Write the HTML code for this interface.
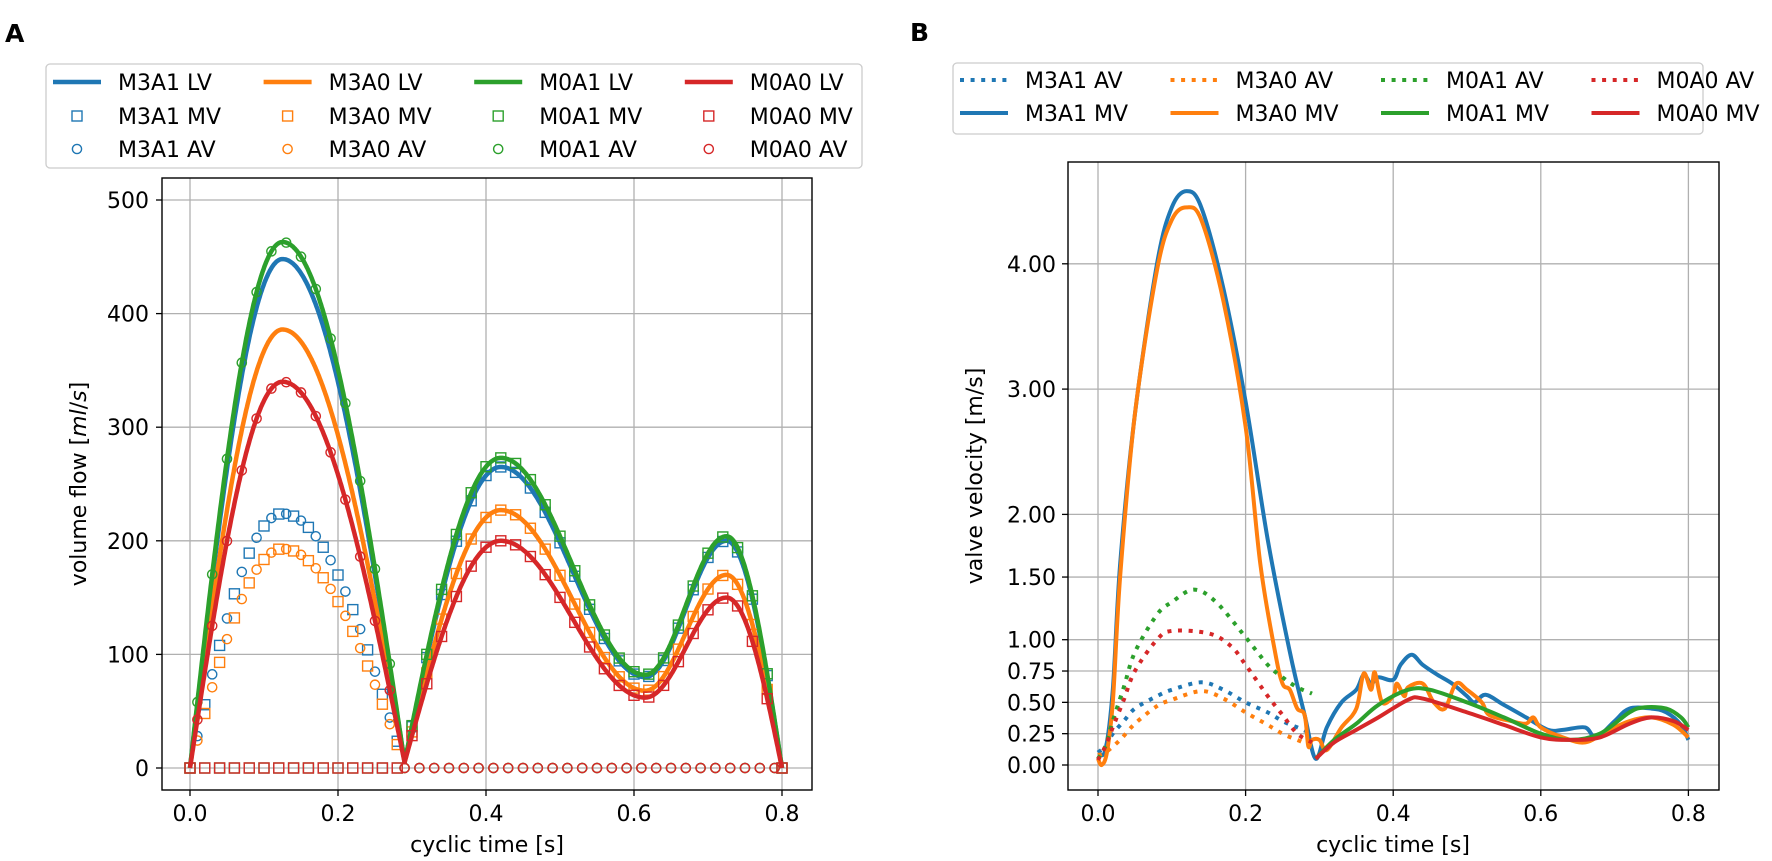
<!DOCTYPE html>
<html><head><meta charset="utf-8">
<style>
html,body{margin:0;padding:0;background:#fff;}
svg{display:block;font-family:"DejaVu Sans","Liberation Sans",sans-serif;}
</style></head>
<body>
<svg id="s" width="1772" height="861" viewBox="0 0 1772 861" xmlns="http://www.w3.org/2000/svg">
<rect width="1772" height="861" fill="#fff"/>
<text x="5" y="42" font-size="25" font-weight="bold">A</text>
<text x="910" y="41" font-size="25" font-weight="bold">B</text>
<g id="gridA" stroke="#b0b0b0" stroke-width="1.3"></g>
<g id="gridB" stroke="#b0b0b0" stroke-width="1.3"></g>
<g id="dataA"></g>
<g id="dataB"></g>
<rect x="162" y="178" width="650" height="612" fill="none" stroke="#000" stroke-width="1.4"/>
<rect x="1068" y="162" width="651" height="628" fill="none" stroke="#000" stroke-width="1.4"/>
<g id="ticks" stroke="#000" stroke-width="1.3"></g>
<g id="labels" font-size="22" fill="#000"></g>
<text x="487" y="852" font-size="22" text-anchor="middle">cyclic time [s]</text>
<text x="1393" y="852" font-size="22" text-anchor="middle">cyclic time [s]</text>
<text transform="translate(86,484) rotate(-90)" font-size="22" text-anchor="middle">volume flow [<tspan font-style="italic">ml</tspan>/<tspan font-style="italic">s</tspan>]</text>
<text transform="translate(982,476) rotate(-90)" font-size="22" text-anchor="middle">valve velocity [m/s]</text>
<rect x="46" y="64" width="816" height="104" rx="4" fill="#fff" stroke="#cccccc" stroke-width="1.3"/>
<rect x="953" y="63" width="750" height="71" rx="4" fill="#fff" stroke="#cccccc" stroke-width="1.3"/>
<g id="legA" font-size="22"></g>
<g id="legB" font-size="22"></g>
</svg>
<script>
var NS="http://www.w3.org/2000/svg";
function el(p,n,a,txt){var e=document.createElementNS(NS,n);for(var k in a)e.setAttribute(k,a[k]);if(txt!==undefined)e.textContent=txt;document.getElementById(p).appendChild(e);return e;}
var C={b:"#1f77b4",o:"#ff7f0e",g:"#2ca02c",r:"#d62728"};
function XA(t){return 190+740*t;} function YA(v){return 768-1.136*v;}
function XB(t){return 1098+738*t;} function YB(v){return 765-125.3*v;}
[0,0.2,0.4,0.6,0.8].forEach(function(t){
 el("gridA","line",{x1:XA(t),x2:XA(t),y1:178,y2:790});
 el("ticks","line",{x1:XA(t),x2:XA(t),y1:790,y2:796});
 el("labels","text",{x:XA(t),y:821,"text-anchor":"middle"},t.toFixed(1));
 el("gridB","line",{x1:XB(t),x2:XB(t),y1:162,y2:790});
 el("ticks","line",{x1:XB(t),x2:XB(t),y1:790,y2:796});
 el("labels","text",{x:XB(t),y:821,"text-anchor":"middle"},t.toFixed(1));
});
[0,100,200,300,400,500].forEach(function(v){
 el("gridA","line",{x1:162,x2:812,y1:YA(v),y2:YA(v)});
 el("ticks","line",{x1:156,x2:162,y1:YA(v),y2:YA(v)});
 el("labels","text",{x:149,y:YA(v)+8,"text-anchor":"end"},String(v));
});
[0,0.25,0.5,0.75,1,1.5,2,3,4].forEach(function(v){
 el("gridB","line",{x1:1068,x2:1719,y1:YB(v),y2:YB(v)});
 el("ticks","line",{x1:1062,x2:1068,y1:YB(v),y2:YB(v)});
 el("labels","text",{x:1056,y:YB(v)+8,"text-anchor":"end"},v.toFixed(2));
});
function lv(t,P1,P2,D,P3){
 var h=Math.PI/2,u;
 if(t<=0.125){u=t/0.125;return P1*Math.sin(h*u);}
 if(t<=0.29){u=(t-0.125)/0.165;return 5+(P1-5)*Math.cos(h*u);}
 if(t<=0.42){u=(t-0.29)/0.13;return 5+(P2-5)*Math.sin(h*u);}
 if(t<=0.615){u=(t-0.42)/0.195;return D+(P2-D)*(1+Math.cos(Math.PI*u))/2;}
 if(t<=0.725){u=(t-0.615)/0.11;return D+(P3-D)*(1-Math.cos(Math.PI*u))/2;}
 u=(t-0.725)/0.075;return P3*Math.cos(h*u);
}
var models=[["b",448,265,80,200,true],["o",386,227,68,170,true],["g",463,273,82,204,false],["r",340,200,62,150,false]];
models.forEach(function(m){
 var c=C[m[0]],f=function(t){return lv(t,m[1],m[2],m[3],m[4]);};
 var d="";for(var i=0;i<=800;i++){var t=i/1000;d+=(i?"L":"M")+XA(t).toFixed(1)+","+YA(f(t)).toFixed(1);}
 el("dataA","path",{d:d,fill:"none",stroke:c,"stroke-width":4.5,"stroke-linejoin":"round"});
 for(var k=0;k<=40;k++){var t=k*0.02,v;
  if(t<=0.285)v=m[5]?0.5*f(t):0;else v=f(t);
  el("dataA","rect",{x:XA(t)-5,y:YA(v)-5,width:10,height:10,fill:"none",stroke:c,"stroke-width":1.4});}
 for(var k=0;k<40;k++){var t=0.01+k*0.02,v;
  if(t<=0.285)v=m[5]?0.5*f(t):f(t);else v=0;
  el("dataA","circle",{cx:XA(t),cy:YA(v),r:4.6,fill:"none",stroke:c,"stroke-width":1.4});}
});
function cr(pts,X,Y){
 var P=pts.map(function(p){return [X(p[0]),Y(p[1])];});
 var d="M"+P[0][0].toFixed(1)+","+P[0][1].toFixed(1);
 for(var i=0;i<P.length-1;i++){
  var p0=P[i?i-1:0],p1=P[i],p2=P[i+1],p3=P[i+2<P.length?i+2:i+1];
  var c1=[p1[0]+(p2[0]-p0[0])/6,p1[1]+(p2[1]-p0[1])/6],c2=[p2[0]-(p3[0]-p1[0])/6,p2[1]-(p3[1]-p1[1])/6];
  d+="C"+c1[0].toFixed(1)+","+c1[1].toFixed(1)+" "+c2[0].toFixed(1)+","+c2[1].toFixed(1)+" "+p2[0].toFixed(1)+","+p2[1].toFixed(1);
 }
 return d;
}
var AV={
 b:[[0,0.1],[0.01,0.15],[0.02,0.25],[0.035,0.35],[0.05,0.45],[0.08,0.55],[0.1,0.6],[0.14,0.66],[0.17,0.6],[0.2,0.5],[0.23,0.42],[0.25,0.35],[0.27,0.3],[0.29,0.25]],
 o:[[0,0.08],[0.01,0.1],[0.03,0.2],[0.05,0.33],[0.08,0.47],[0.1,0.52],[0.14,0.59],[0.17,0.53],[0.2,0.42],[0.23,0.32],[0.25,0.25],[0.27,0.2],[0.29,0.15]],
 g:[[0,0.05],[0.01,0.15],[0.02,0.35],[0.035,0.62],[0.05,0.9],[0.08,1.2],[0.1,1.3],[0.13,1.4],[0.16,1.3],[0.2,1.02],[0.23,0.8],[0.25,0.7],[0.27,0.62],[0.29,0.57]],
 r:[[0,0.04],[0.01,0.15],[0.02,0.3],[0.035,0.52],[0.05,0.75],[0.08,1.0],[0.1,1.07],[0.15,1.05],[0.18,0.95],[0.2,0.8],[0.23,0.55],[0.25,0.4],[0.27,0.25],[0.29,0.18]]
};
var MV={
 b:[[0,0.1],[0.01,0.12],[0.02,0.6],[0.03,1.6],[0.05,2.8],[0.08,4.0],[0.1,4.45],[0.12,4.58],[0.14,4.45],[0.17,3.8],[0.2,2.9],[0.23,1.8],[0.26,0.9],[0.28,0.4],[0.295,0.05],[0.31,0.3],[0.33,0.5],[0.35,0.6],[0.36,0.72],[0.37,0.65],[0.38,0.7],[0.4,0.68],[0.41,0.8],[0.425,0.88],[0.44,0.8],[0.46,0.72],[0.48,0.65],[0.5,0.55],[0.51,0.5],[0.525,0.56],[0.55,0.48],[0.58,0.38],[0.61,0.28],[0.63,0.28],[0.66,0.3],[0.675,0.22],[0.7,0.35],[0.72,0.45],[0.75,0.45],[0.77,0.42],[0.79,0.32],[0.8,0.2]],
 o:[[0,0.05],[0.005,0.0],[0.012,0.1],[0.02,0.5],[0.03,1.5],[0.05,2.8],[0.08,3.95],[0.1,4.35],[0.12,4.45],[0.14,4.35],[0.17,3.7],[0.2,2.7],[0.22,1.6],[0.24,0.9],[0.25,0.65],[0.26,0.6],[0.27,0.45],[0.28,0.4],[0.285,0.15],[0.29,0.2],[0.3,0.2],[0.31,0.12],[0.33,0.3],[0.35,0.45],[0.36,0.73],[0.37,0.6],[0.375,0.74],[0.385,0.5],[0.4,0.55],[0.405,0.65],[0.415,0.55],[0.42,0.62],[0.44,0.65],[0.455,0.5],[0.47,0.45],[0.485,0.65],[0.5,0.6],[0.52,0.5],[0.53,0.4],[0.56,0.35],[0.58,0.33],[0.59,0.38],[0.6,0.3],[0.63,0.22],[0.66,0.18],[0.69,0.27],[0.72,0.35],[0.75,0.38],[0.78,0.32],[0.8,0.22]],
 g:[[0.295,0.05],[0.32,0.2],[0.35,0.33],[0.38,0.48],[0.42,0.6],[0.45,0.6],[0.5,0.5],[0.55,0.38],[0.6,0.25],[0.64,0.2],[0.68,0.25],[0.72,0.42],[0.74,0.46],[0.77,0.45],[0.79,0.38],[0.8,0.3]],
 r:[[0.295,0.05],[0.32,0.18],[0.35,0.28],[0.38,0.38],[0.42,0.52],[0.44,0.53],[0.5,0.42],[0.55,0.32],[0.6,0.22],[0.64,0.2],[0.68,0.22],[0.72,0.33],[0.75,0.38],[0.78,0.35],[0.8,0.28]]
};
["b","o","g","r"].forEach(function(k){
 el("dataB","path",{d:cr(AV[k],XB,YB),fill:"none",stroke:C[k],"stroke-width":4,"stroke-dasharray":"4 6.6"});
 el("dataB","path",{d:cr(MV[k],XB,YB),fill:"none",stroke:C[k],"stroke-width":4,"stroke-linejoin":"round"});
});
var names=[["M3A1","b"],["M3A0","o"],["M0A1","g"],["M0A0","r"]];
names.forEach(function(n,i){
 var x0=53+210.6*i,c=C[n[1]];
 el("legA","line",{x1:x0,x2:x0+48,y1:82,y2:82,stroke:c,"stroke-width":4.5});
 el("legA","rect",{x:x0+19,y:111,width:10,height:10,fill:"none",stroke:c,"stroke-width":1.4});
 el("legA","circle",{cx:x0+24,cy:149,r:4.6,fill:"none",stroke:c,"stroke-width":1.4});
 el("legA","text",{x:x0+65,y:90},n[0]+" LV");
 el("legA","text",{x:x0+65,y:124},n[0]+" MV");
 el("legA","text",{x:x0+65,y:157},n[0]+" AV");
 var xb=960+210.5*i;
 el("legB","line",{x1:xb,x2:xb+48,y1:80,y2:80,stroke:c,"stroke-width":4,"stroke-dasharray":"4 6.6"});
 el("legB","line",{x1:xb,x2:xb+48,y1:113,y2:113,stroke:c,"stroke-width":4});
 el("legB","text",{x:xb+65,y:88},n[0]+" AV");
 el("legB","text",{x:xb+65,y:121},n[0]+" MV");
});
</script>
</body></html>
